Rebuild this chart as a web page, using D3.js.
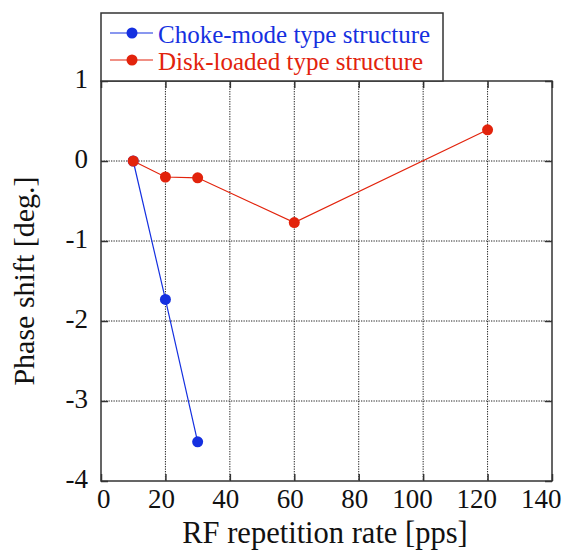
<!DOCTYPE html>
<html>
<head>
<meta charset="utf-8">
<script src="https://cdn.jsdelivr.net/npm/d3@7"></script>
<style>
  html, body { margin: 0; padding: 0; background: #fff; }
  svg { display: block; }
  text { font-family: "Liberation Serif", "Times New Roman", serif; }
</style>
</head>
<body>
<svg id="chart" width="563" height="550"></svg>
<script>
// Phase shift versus RF repetition rate for two accelerating structures
const chokeRate  = [10, 20, 30];
const chokePhase = [0, -1.73, -3.51];
const diskRate   = [10, 20, 30, 60, 120];
const diskPhase  = [0, -0.2, -0.21, -0.77, 0.39];
const xTicks = [0, 20, 40, 60, 80, 100, 120, 140];
const yTicks = [1, 0, -1, -2, -3, -4];

const seriesList = [
  { name: "Choke-mode type structure", color: "#1530e0", x: chokeRate, y: chokePhase },
  { name: "Disk-loaded type structure", color: "#e2230c", x: diskRate, y: diskPhase }
];

const svg = d3.select("#chart");
const m = { left: 101, right: 552, top: 81, bottom: 481 };
const serif = "'Liberation Serif', 'Times New Roman', serif";

const x = d3.scaleLinear().domain([0, 140]).range([m.left, m.right]);
const y = d3.scaleLinear().domain([-4, 1]).range([m.bottom, m.top]);

const frameColor = "#333";
const gridColor = "#222";
const fmt = d => String(d); // plain hyphen for negatives

// dotted grid
const grid = svg.append("g");
grid.selectAll("line.vx").data(xTicks.slice(1, -1)).join("line")
  .attr("x1", d => x(d)).attr("x2", d => x(d))
  .attr("y1", m.top).attr("y2", m.bottom)
  .attr("stroke", gridColor).attr("stroke-width", 1).attr("stroke-dasharray", "1.3,1.2");
grid.selectAll("line.hy").data(yTicks.slice(1, -1)).join("line")
  .attr("x1", m.left).attr("x2", m.right)
  .attr("y1", d => y(d)).attr("y2", d => y(d))
  .attr("stroke", gridColor).attr("stroke-width", 1).attr("stroke-dasharray", "1.3,1.2");

// axes with inward ticks on all four sides
const tickLen = 7;
const axB = svg.append("g").attr("transform", `translate(0,${m.bottom})`)
  .call(d3.axisBottom(x).tickValues(xTicks).tickSize(-tickLen).tickFormat(fmt));
const axT = svg.append("g").attr("transform", `translate(0,${m.top})`)
  .call(d3.axisTop(x).tickValues(xTicks).tickSize(-tickLen).tickFormat(""));
const axL = svg.append("g").attr("transform", `translate(${m.left},0)`)
  .call(d3.axisLeft(y).tickValues(yTicks).tickSize(-tickLen).tickFormat(fmt));
const axR = svg.append("g").attr("transform", `translate(${m.right},0)`)
  .call(d3.axisRight(y).tickValues(yTicks).tickSize(-tickLen).tickFormat(""));

[axB, axT, axL, axR].forEach(a => {
  a.attr("font-family", serif).attr("font-size", 27);
  a.select(".domain").remove();
  a.selectAll(".tick line").attr("stroke", frameColor).attr("stroke-width", 1.5);
  a.selectAll(".tick text").attr("fill", "#111");
});
// bottom labels sit right-aligned just past each tick
axB.selectAll(".tick text")
  .attr("text-anchor", "end").attr("x", 9).attr("y", 27).attr("dy", null);
axL.selectAll(".tick text")
  .attr("x", -13).attr("dy", null).attr("y", 6);

// plot frame
svg.append("rect")
  .attr("x", m.left).attr("y", m.top)
  .attr("width", m.right - m.left).attr("height", m.bottom - m.top)
  .attr("fill", "none").attr("stroke", frameColor).attr("stroke-width", 1.5);

// series
const line = d3.line().x(d => x(d[0])).y(d => y(d[1]));
seriesList.forEach(s => {
  const pts = s.x.map((v, i) => [v, s.y[i]]);
  svg.append("path").datum(pts).attr("d", line)
    .attr("fill", "none").attr("stroke", s.color).attr("stroke-width", 1.2);
  svg.append("g").selectAll("circle").data(pts).join("circle")
    .attr("cx", d => x(d[0])).attr("cy", d => y(d[1])).attr("r", 5.5)
    .attr("fill", s.color);
});

// axis titles
svg.append("text")
  .attr("x", 325).attr("y", 543)
  .attr("text-anchor", "middle").attr("fill", "#111")
  .style("font-family", serif).style("font-size", "30.5px")
  .text("RF repetition rate [pps]");
svg.append("text")
  .attr("transform", `translate(34,281) rotate(-90)`)
  .attr("text-anchor", "middle").attr("fill", "#111")
  .style("font-family", serif).style("font-size", "30px")
  .text("Phase shift [deg.]");

// legend box above the plot
const lg = svg.append("g");
lg.append("rect").attr("x", m.left).attr("y", 13).attr("width", 342).attr("height", 68)
  .attr("fill", "#fff").attr("stroke", frameColor).attr("stroke-width", 1.5);
seriesList.forEach((s, i) => {
  const cy = 33 + i * 27;
  lg.append("line").attr("x1", 110).attr("x2", 153).attr("y1", cy).attr("y2", cy)
    .attr("stroke", s.color).attr("stroke-width", 1.2);
  lg.append("circle").attr("cx", 132).attr("cy", cy).attr("r", 5.5).attr("fill", s.color);
  lg.append("text").attr("x", 158).attr("y", cy + 10).attr("fill", s.color)
    .style("font-family", serif).style("font-size", "25px").text(s.name);
});
</script>
</body>
</html>
